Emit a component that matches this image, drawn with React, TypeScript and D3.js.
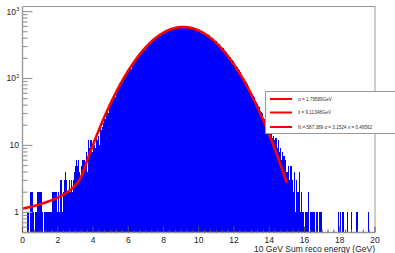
import React from "react";
import * as d3 from "d3";

const width = 395;
const height = 253;

// histogram, 0.05 GeV bins from 0 to 20 GeV
const binWidth = 0.05;
// 0.00 - 3.45
const countsLow = [
  0, 0, 0, 0, 0,
  1, 1, 0, 1, 2, 2, 2, 1, 0, 1,
  1, 2, 2, 1, 2, 2, 2, 1, 0, 1,
  1, 1, 0, 1, 1, 1, 1, 1, 2, 2,
  2, 1, 2, 2, 1, 2, 1, 1, 3, 2,
  1, 2, 3, 4, 3, 2, 1, 2, 3, 2,
  3, 2, 3, 4, 3, 5, 6, 5, 6, 4,
  3, 5, 4, 6, 5,
];
// 3.50 - 14.95
const countsCore = [
  6, 5, 8, 4, 12, 7, 9, 12, 11, 8,
  12, 10, 9, 13, 12, 11, 14, 10, 22, 17,
  19, 22, 26, 23, 25, 31, 35, 30, 36, 40,
  44, 41, 47, 52, 56, 53, 60, 65, 71, 68,
  76, 82, 88, 85, 94, 99, 109, 104, 121, 116,
  128, 134, 146, 141, 155, 161, 175, 169, 184, 192,
  207, 201, 218, 225, 241, 236, 253, 260, 278, 271,
  290, 298, 316, 311, 330, 337, 356, 349, 369, 377,
  396, 389, 408, 416, 435, 428, 446, 454, 472, 464,
  481, 489, 505, 498, 512, 521, 534, 527, 539, 548,
  558, 551, 560, 569, 576, 568, 574, 583, 588, 580,
  591, 583, 584, 592, 590, 583, 581, 588, 584, 575,
  570, 578, 569, 562, 553, 560, 550, 541, 530, 537,
  524, 516, 501, 509, 493, 485, 468, 476, 458, 450,
  432, 440, 421, 413, 394, 402, 382, 374, 354, 362,
  342, 335, 315, 322, 303, 296, 277, 284, 265, 258,
  240, 247, 229, 222, 205, 212, 195, 189, 174, 180,
  165, 159, 145, 151, 137, 132, 120, 125, 113, 108,
  102, 97, 93, 88, 84, 79, 76, 70, 66, 63,
  59, 55, 53, 49, 46, 44, 41, 39, 37, 33,
  32, 30, 29, 26, 25, 22, 23, 19, 20, 17,
  18, 15, 16, 13, 14, 12, 13, 10, 13, 9,
  12, 8, 9, 6, 8, 5, 7, 4, 6, 4,
];
// 15.00 - 19.95
const countsHigh = [
  4, 5, 3, 4, 5, 2, 3, 2, 4, 1,
  3, 2, 1, 2, 4, 1, 2, 1, 1, 0,
  1, 0, 1, 1, 2, 0, 1, 1, 0, 1,
  1, 1, 0, 1, 1, 0, 1, 0, 1, 0,
  0, 0, 0, 0, 0, 0, 0, 0, 0, 0,
  0, 0, 0, 0, 0, 0, 0, 0, 1, 0,
  1, 0, 1, 1, 0, 0, 0, 0, 1, 0,
  0, 0, 0, 1, 0, 0, 0, 0, 0, 1,
  0, 0, 0, 0, 0, 0, 0, 0, 0, 0,
  0, 0, 1, 0, 0, 0, 0, 0, 0, 0,
];
const counts = [...countsLow, ...countsCore, ...countsHigh];

// Crystal Ball fit parameters (from the legend)
const fitSigma = 1.79589;
const fitMean = 9.11348;
const fitN = 587.389;
const fitAlpha = 3.1524;
const fitPower = 0.49562;
const fitRange = [0, 15];

const legendEntries = [
  "σ = 1.79589GeV",
  "x̄ = 9.11348GeV",
  "N = 587.389 α = 3.1524 n = 0.49562",
];

const xTicks = [0, 2, 4, 6, 8, 10, 12, 14, 16, 18, 20];
const yTicks = [1, 10, 100, 1000];
const yTickBase = ["1", "10", "10", "10"];
const yTickExp = ["", "", "2", "3"];
const xTitle = "10 GeV Sum reco energy (GeV)";

const font = "'Liberation Sans', Arial, sans-serif";

function crystalBall(v: number) {
  const t = (v - fitMean) / fitSigma;
  if (t > -fitAlpha) return fitN * Math.exp(-0.5 * t * t);
  const A = Math.pow(fitPower / fitAlpha, fitPower) * Math.exp(-0.5 * fitAlpha * fitAlpha);
  const B = fitPower / fitAlpha - fitAlpha;
  return fitN * A * Math.pow(B - t, -fitPower);
}

export default function App() {
  const left = 22.5, right = 375, top = 6.5, bottom = 232.5;
  const x = d3.scaleLinear().domain([0, 20]).range([left, right]);
  const y = d3.scaleLog().domain([0.5, 1190]).range([bottom, top]);

  const bw = x(binWidth) - x(0);
  const curve = d3
    .line<number>()
    .x(d => x(d))
    .y(d => y(crystalBall(d)))(d3.range(fitRange[0], fitRange[1] + 0.001, 0.05));

  const minorX = d3.range(0, 20.001, 2 / 6).filter(v => Math.abs(v / 2 - Math.round(v / 2)) > 0.01);
  const minorY: number[] = [];
  [0.1, 1, 10, 100].forEach(dec => {
    for (let k = 2; k <= 9; k++) {
      const v = dec * k;
      if (v >= 0.5 && v <= 1190) minorY.push(v);
    }
  });

  const axisColor = "#9a9a9a";
  const legX = 265.5, legY = 91.5;

  return (
    <svg
      width={width}
      height={height}
      style={{ position: "absolute", left: 0, top: 0, background: "#fff" }}
    >
      <g shapeRendering="crispEdges">
        {counts.map((c, i) =>
          c > 0 ? (
            <rect
              key={i}
              x={x(i * binWidth)}
              width={bw + 0.3}
              y={y(c)}
              height={bottom - y(c)}
              fill="#0000ff"
            />
          ) : null
        )}
      </g>
      <path d={curve || ""} fill="none" stroke="#ff0000" strokeWidth={2.6} />

      {/* frame */}
      <line x1={left} x2={right} y1={top} y2={top} stroke={axisColor} />
      <line x1={right} x2={right} y1={top} y2={bottom} stroke={axisColor} />
      <line x1={left} x2={left} y1={top} y2={bottom} stroke={axisColor} strokeWidth={1.4} />
      <line x1={left} x2={right} y1={bottom} y2={bottom} stroke={axisColor} strokeWidth={1.4} />

      {/* x ticks */}
      {xTicks.map(t => (
        <g key={"xt" + t}>
          <line x1={x(t)} x2={x(t)} y1={bottom} y2={bottom - 6} stroke="#555" />
          <text
            x={x(t)}
            y={243}
            textAnchor="middle"
            fontFamily={font}
            fontSize={8.5}
            fill="#222"
          >
            {t}
          </text>
        </g>
      ))}
      {minorX.map((t, i) => (
        <line key={"xm" + i} x1={x(t)} x2={x(t)} y1={bottom} y2={bottom - 3} stroke="#555" />
      ))}

      {/* y ticks */}
      {yTicks.map((t, i) => (
        <g key={"yt" + t}>
          <line x1={left} x2={left + 10} y1={y(t)} y2={y(t)} stroke={axisColor} strokeWidth={1.2} />
          <text
            x={yTickExp[i] ? 16 : 19}
            y={y(t) + 3}
            textAnchor="end"
            fontFamily={font}
            fontSize={8.5}
            fill="#222"
          >
            {yTickBase[i]}
          </text>
          {yTickExp[i] ? (
            <text x={16.2} y={y(t) - 0.5} fontFamily={font} fontSize={5.5} fill="#222">
              {yTickExp[i]}
            </text>
          ) : null}
        </g>
      ))}
      {minorY.map((t, i) => (
        <line key={"ym" + i} x1={left} x2={left + 5} y1={y(t)} y2={y(t)} stroke={axisColor} strokeWidth={1.2} />
      ))}

      <text
        x={right}
        y={252}
        textAnchor="end"
        fontFamily={font}
        fontSize={8.5}
        fill="#222"
      >
        {xTitle}
      </text>

      {/* legend */}
      <rect x={legX} y={legY} width={140} height={42} fill="#fff" stroke={axisColor} />
      {legendEntries.map((e, i) => {
        const cy = [99, 112.5, 127][i];
        return (
          <g key={"leg" + i}>
            <line x1={270} x2={292} y1={cy} y2={cy} stroke="#ff0000" strokeWidth={2} />
            <text x={298} y={cy + 1.6} fontFamily={font} fontSize={4.6} fill="#333">
              {e}
            </text>
          </g>
        );
      })}
    </svg>
  );
}
